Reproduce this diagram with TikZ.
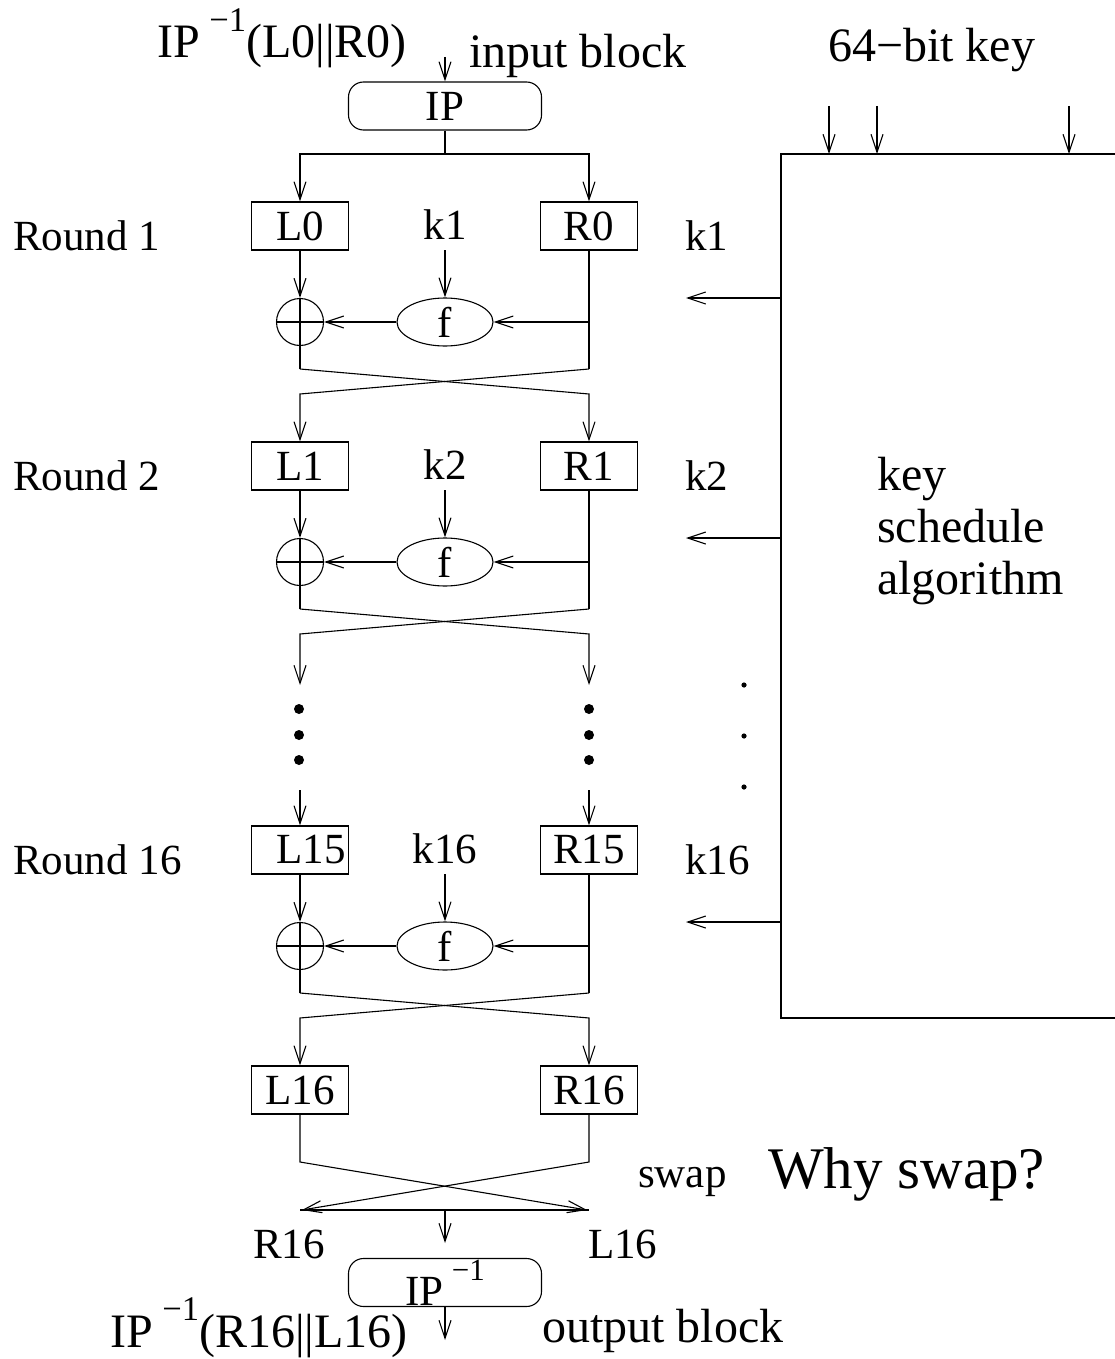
\documentclass[tikz,border=0pt]{standalone}
\usepackage{fontspec}
\usepackage{graphicx}
\setmainfont{Liberation Serif}
\usetikzlibrary{arrows.meta,shapes.geometric}

% IP with a raised -1
\newcommand{\ipsup}{IP\hspace{0.2em}\raisebox{0.56em}{\scalebox{0.72}{−1}}}

\tikzset{
  wire/.style={line width=1.1pt},
  arr/.style={wire,-{Straight Barb[length=18pt,width=12pt,line width=1.1pt]}},
  lbl/.style={inner sep=0pt,font=\fontsize{43}{50}\selectfont},
  lblbig/.style={inner sep=0pt,font=\fontsize{48}{54}\selectfont},
  blk/.style={draw,wire,rectangle,minimum width=97pt,minimum height=48pt,inner sep=0pt,font=\fontsize{43}{50}\selectfont},
  ipbox/.style={draw,wire,rectangle,rounded corners=15pt,minimum width=193pt,minimum height=48pt,inner sep=0pt,font=\fontsize{43}{50}\selectfont},
  fbox/.style={draw,wire,ellipse,minimum width=96pt,minimum height=48pt,inner sep=0pt,font=\fontsize{43}{50}\selectfont},
  xorgate/.style={draw,wire,circle,minimum size=47pt,inner sep=0pt,
    path picture={\draw[wire] (path picture bounding box.north) -- (path picture bounding box.south)
                               (path picture bounding box.west) -- (path picture bounding box.east);}},
  bigdot/.style={fill=black},
}

\begin{document}
\begin{tikzpicture}[x=1pt,y=-1pt]
\useasboundingbox (0,0) rectangle (1115,1359);

% ---- initial permutation ----
\node[ipbox] (ip) at (445,106) {IP};
\node[lblbig,anchor=base west] (intxt) at (157,58) {\ipsup(L0||R0)};
\node[lblbig,anchor=base west] (inblk) at (469,68) {input block};
\coordinate (inp) at (445,57);
\draw[arr] (inp) -- (ip.north);
\coordinate (split) at (445,154);
\coordinate (splitL) at (300,154);
\coordinate (splitR) at (589,154);
\draw[wire] (ip.south) -- (split);

% ---- rounds ----
\foreach \rr/\ty/\ltx/\rtx/\kk/\rnd/\ls in {a/202/L0/R0/k1/1/0, b/442/L1/R1/k2/2/0, c/826/L15/R15/k16/16/22} {
  \node[blk] (L\rr) at (300,\ty+24) {\hspace{\ls pt}\ltx};
  \node[blk] (R\rr) at (589,\ty+24) {\rtx};
  \node[lbl,anchor=base] (k\rr) at (445,\ty+37) {\kk};
  \node[lbl,anchor=base west] (rl\rr) at (13,\ty+48) {Round \rnd};
  \node[lbl,anchor=base west] (kr\rr) at (685,\ty+48) {\kk};
  \node[xorgate] (x\rr) at (300,\ty+120) {};
  \node[fbox] (f\rr) at (445,\ty+120) {f};
  \draw[arr] (L\rr.south) -- (x\rr.north);
  \draw[arr] ([yshift=-11pt]k\rr.base) -- (f\rr.north);
  \draw[arr] (R\rr.south) |- (f\rr.east);
  \draw[arr] (f\rr.west) -- (x\rr.east);
  \coordinate (ks\rr) at (781,\ty+96);
  \coordinate (kt\rr) at (686,\ty+96);
  \draw[arr] (ks\rr) -- (kt\rr);
  \coordinate (xl\rr) at (300,\ty+167);
  \coordinate (xr\rr) at (589,\ty+167);
  \coordinate (yl\rr) at (300,\ty+192);
  \coordinate (yr\rr) at (589,\ty+192);
  \draw[wire] (x\rr.south) -- (xl\rr);
  \draw[wire] (R\rr.south) -- (xr\rr);
}

\draw[arr] (split) -- (splitL) -- (La.north);
\draw[arr] (split) -- (splitR) -- (Ra.north);

% crossings between rounds
\draw[arr] (xla) -- (yra) -- (Rb.north);
\draw[arr] (xra) -- (yla) -- (Lb.north);

\coordinate (dl1) at (300,685);
\coordinate (dr1) at (589,685);
\coordinate (dl2) at (300,790);
\coordinate (dr2) at (589,790);
\draw[arr] (xlb) -- (yrb) -- (dr1);
\draw[arr] (xrb) -- (ylb) -- (dl1);
\draw[arr] (dl2) -- (Lc.north);
\draw[arr] (dr2) -- (Rc.north);

% ellipsis
\foreach \yy in {709,735,760} {
  \fill[bigdot] (299,\yy) circle (5pt);
  \fill[bigdot] (589,\yy) circle (5pt);
}
\foreach \yy in {685,736,787} {
  \fill[bigdot] (744,\yy) circle (2.6pt);
}

% ---- after round 16 ----
\node[blk] (L16) at (300,1090) {L16};
\node[blk] (R16) at (589,1090) {R16\hspace{25pt}};
\draw[arr] (xlc) -- (yrc) -- (R16.north);
\draw[arr] (xrc) -- (ylc) -- (L16.north);

% swap
\coordinate (sl) at (300,1162);
\coordinate (sr) at (589,1162);
\coordinate (el) at (302,1210);
\coordinate (er) at (587,1210);
\coordinate (ml) at (300,1210);
\coordinate (mr) at (589,1210);
\coordinate (mc) at (445,1210);
\coordinate (mt) at (445,1243);
\draw[arr] (L16.south) -- (sl) -- (er);
\draw[arr] (R16.south) -- (sr) -- (el);
\draw[wire] (ml) -- (mr);
\draw[arr] (mc) -- (mt);

\node[lbl,anchor=base west] (r16l) at (253,1258) {R16};
\node[lbl,anchor=base west] (l16l) at (588,1258) {L16};
\node[lbl,anchor=base west] (swp) at (638,1187) {swap};
\node[inner sep=0pt,font=\fontsize{59}{66}\selectfont,anchor=base west] (why) at (768,1188) {Why swap?};

% final permutation
\node[ipbox] (ipinv) at (445,1282.5) {};
\node[lbl,anchor=base] (ipinvtxt) at ([yshift=2pt]ipinv.south) {\ipsup};
\coordinate (outp) at (445,1340);
\draw[arr] (ipinv.south) -- (outp);
\node[lblbig,anchor=base west] (outblk) at (542,1342) {output block};
\node[lblbig,anchor=base west] (outtxt) at (110,1347) {\ipsup(R16||L16)};

% ---- key schedule ----
\coordinate (kbtr) at (1115,154);
\coordinate (kbtl) at (781,154);
\coordinate (kbbl) at (781,1018);
\coordinate (kbbr) at (1115,1018);
\draw[wire] (kbtr) -- (kbtl) -- (kbbl) -- (kbbr);
\node[lblbig,anchor=base west] (keyin) at (828,62) {64−bit key};
\foreach \xx/\nm in {829/ka, 877/kb, 1069/kc} {
  \coordinate (\nm s) at (\xx,106);
  \coordinate (\nm e) at (\xx,154);
  \draw[arr] (\nm s) -- (\nm e);
}
\node[lblbig,anchor=base west] (ks1) at (877,490) {key};
\node[lblbig,anchor=base west] (ks2) at (877,542) {schedule};
\node[lblbig,anchor=base west] (ks3) at (877,594) {algorithm};
\end{tikzpicture}
\end{document}
